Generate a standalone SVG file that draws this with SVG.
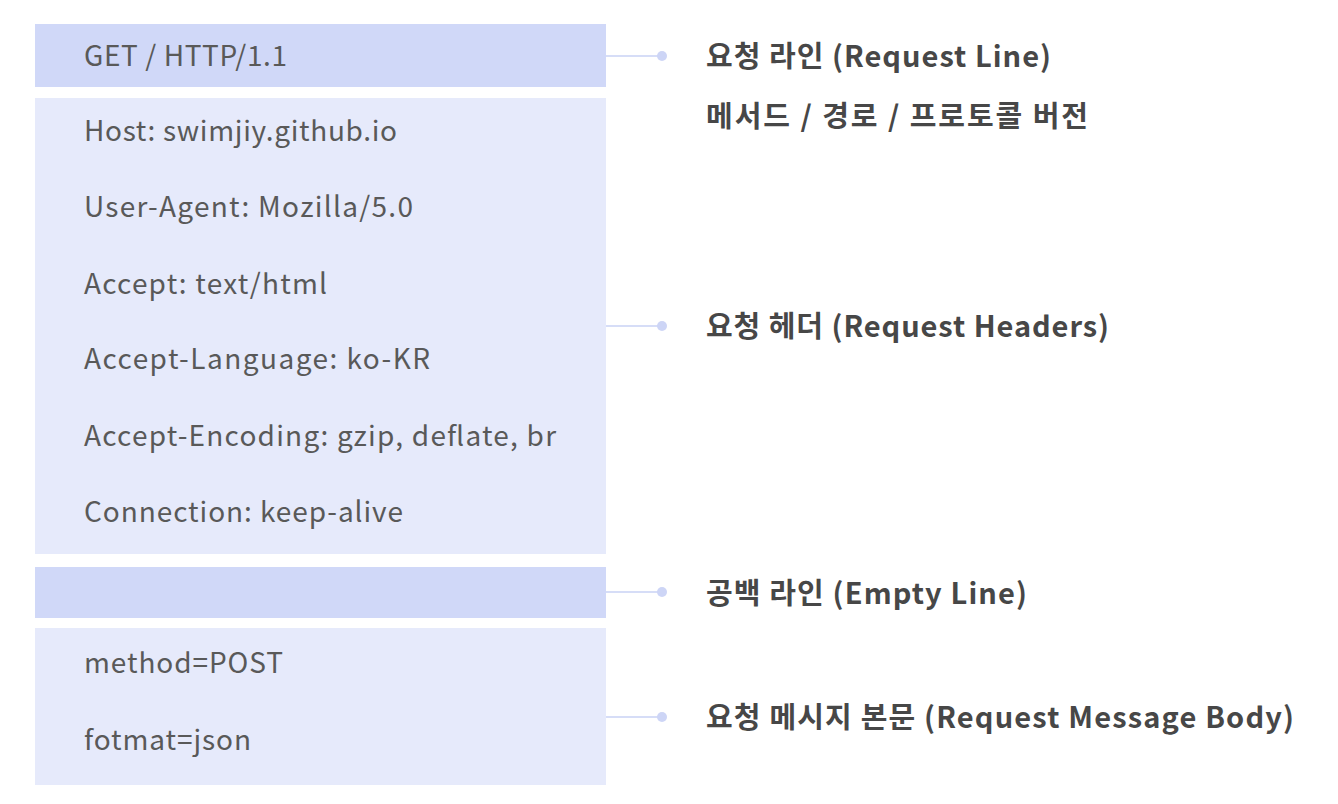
<svg xmlns="http://www.w3.org/2000/svg" width="1338" height="804" viewBox="0 0 1338 804">
<style>
.dark{fill:#d0d8f8}
.light{fill:#e6eafb}
.t{font-family:"Noto Sans CJK KR","Noto Sans",sans-serif;font-size:28px;fill:#595959}
.lbl{font-family:"Noto Sans CJK KR","Noto Sans",sans-serif;font-size:29px;font-weight:bold;fill:#474747}
.ln{stroke:#d6ddf7;stroke-width:2}
.dot{fill:#cdd5f6}
</style>
<rect width="1338" height="804" fill="#fff"/>
<g id="request-line">
<rect class="dark" x="35" y="24" width="571" height="63"/>
<text class="t" x="84" y="54" dominant-baseline="central" textLength="203">GET / HTTP/1.1</text>
</g>
<g id="headers">
<rect class="light" x="35" y="98" width="571" height="456"/>
<text class="t" x="84" y="129" dominant-baseline="central" textLength="313">Host: swimjiy.github.io</text>
<text class="t" x="84" y="205" dominant-baseline="central" textLength="329">User-Agent: Mozilla/5.0</text>
<text class="t" x="84" y="282" dominant-baseline="central" textLength="243">Accept: text/html</text>
<text class="t" x="84" y="357" dominant-baseline="central" textLength="346">Accept-Language: ko-KR</text>
<text class="t" x="84" y="434" dominant-baseline="central" textLength="472">Accept-Encoding: gzip, deflate, br</text>
<text class="t" x="84" y="510" dominant-baseline="central" textLength="319">Connection: keep-alive</text>
</g>
<g id="empty-line">
<rect class="dark" x="35" y="567" width="571" height="51"/>
</g>
<g id="body">
<rect class="light" x="35" y="628" width="571" height="157"/>
<text class="t" x="84" y="661" dominant-baseline="central" textLength="199">method=POST</text>
<text class="t" x="84" y="738" dominant-baseline="central" textLength="167">fotmat=json</text>
</g>
<g id="connectors">
<line class="ln" x1="606" y1="56" x2="662" y2="56"/>
<circle class="dot" cx="662" cy="56" r="5"/>
<line class="ln" x1="606" y1="326" x2="662" y2="326"/>
<circle class="dot" cx="662" cy="326" r="5"/>
<line class="ln" x1="606" y1="592" x2="662" y2="592"/>
<circle class="dot" cx="662" cy="592" r="5"/>
<line class="ln" x1="606" y1="717" x2="662" y2="717"/>
<circle class="dot" cx="662" cy="717" r="5"/>
</g>
<g id="label-request-line">
<text class="lbl" x="706" y="54" dominant-baseline="central" textLength="345">요청 라인 (Request Line)</text>
<text class="lbl" x="706" y="114" dominant-baseline="central" textLength="382">메서드 / 경로 / 프로토콜 버전</text>
</g>
<g id="label-headers">
<text class="lbl" x="706" y="324" dominant-baseline="central" textLength="403">요청 헤더 (Request Headers)</text>
</g>
<g id="label-empty">
<text class="lbl" x="706" y="591" dominant-baseline="central" textLength="321">공백 라인 (Empty Line)</text>
</g>
<g id="label-body">
<text class="lbl" x="706" y="715" dominant-baseline="central" textLength="588">요청 메시지 본문 (Request Message Body)</text>
</g>
</svg>
